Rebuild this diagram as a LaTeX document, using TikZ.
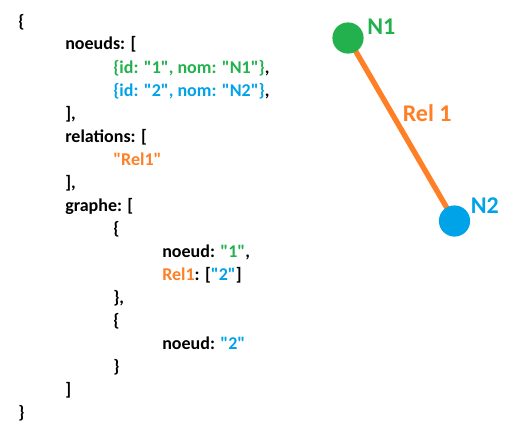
\documentclass[tikz,border=0pt]{standalone}
\usepackage{fontspec}
\setmainfont{Carlito}[Ligatures=TeXOff]
\usetikzlibrary{backgrounds}
\definecolor{pgreen}{HTML}{22B14C}
\definecolor{pblue}{HTML}{00A2E8}
\definecolor{porange}{HTML}{FF7F27}
\newcommand{\qq}{\symbol{34}}
\tikzset{
  codeline/.style={anchor=base west, inner sep=0pt, font=\bfseries\fontsize{13.5}{16}\selectfont, text=black},
  biglabel/.style={anchor=base west, inner sep=0pt, font=\bfseries\fontsize{18}{21}\selectfont},
  dot/.style={circle, inner sep=0pt, minimum size=23.4pt, fill=#1, draw=none},
  rel/.style={draw=porange, line width=4pt}
}
\begin{document}
\begin{tikzpicture}[x=0.75pt, y=-0.75pt]
\useasboundingbox (0,0) rectangle (511,439);
% code text
\node[codeline] (l0)  at (18,27)  {\{};
\node[codeline] (l1)  at (65,50)  {noeuds: [};
\node[codeline] (l2)  at (113,73) {\textcolor{pgreen}{\{id: \qq1\qq, nom: \qq N1\qq\}},};
\node[codeline] (l3)  at (113,96) {\textcolor{pblue}{\{id: \qq2\qq, nom: \qq N2\qq\}},};
\node[codeline] (l4)  at (65,119) {],};
\node[codeline] (l5)  at (65,142) {relations: [};
\node[codeline] (l6)  at (113,165) {\textcolor{porange}{\qq Rel1\qq}};
\node[codeline] (l7)  at (65,188) {],};
\node[codeline] (l8)  at (65,211) {graphe: [};
\node[codeline] (l9)  at (113,234) {\{};
\node[codeline] (l10) at (162,257) {noeud: \textcolor{pgreen}{\qq1\qq},};
\node[codeline] (l11) at (162,280) {\textcolor{porange}{Rel1}: [\textcolor{pblue}{\qq2\qq}]};
\node[codeline] (l12) at (113,303) {\},};
\node[codeline] (l13) at (113,326) {\{};
\node[codeline] (l14) at (162,349) {noeud: \textcolor{pblue}{\qq2\qq}};
\node[codeline] (l15) at (113,372) {\}};
\node[codeline] (l16) at (65,395) {]};
\node[codeline] (l17) at (18,418) {\}};
% graph
\node[dot=pgreen] (n1) at (348,38) {};
\node[dot=pblue]  (n2) at (454.5,221) {};
\begin{scope}[on background layer]
\draw[rel] (n1.center) -- (n2.center);
\end{scope}
\node[biglabel, text=pgreen] (t1) at (367,34) {N1};
\node[biglabel, text=pblue]  (t2) at (470.5,213) {N2};
\node[biglabel, text=porange] (t3) at (402.5,121.5) {Rel 1};
\end{tikzpicture}
\end{document}
